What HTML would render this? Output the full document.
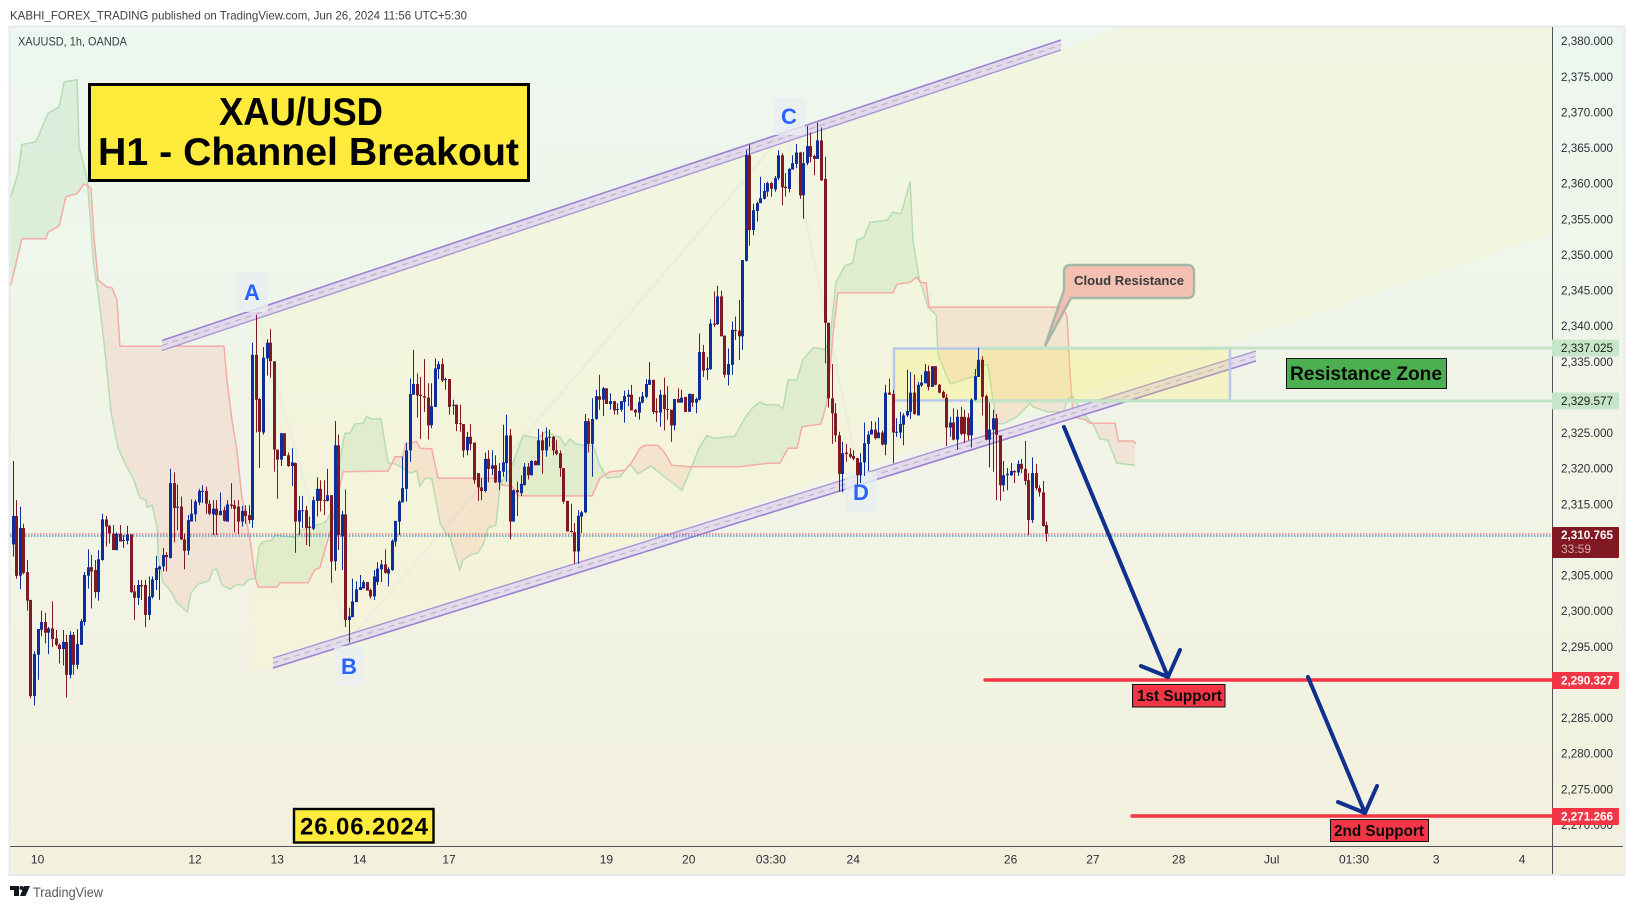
<!DOCTYPE html>
<html lang="en">
<head>
<meta charset="utf-8">
<title>XAU/USD H1 - Channel Breakout</title>
<style>
html,body{margin:0;padding:0;background:#fff;width:1634px;height:909px;overflow:hidden}
svg{display:block;font-family:"Liberation Sans",sans-serif}
</style>
</head>
<body>
<svg id="chart" xmlns="http://www.w3.org/2000/svg" width="1634" height="909" viewBox="0 0 1634 909">
<defs>
<linearGradient id="bgGrad" x1="0" y1="0" x2="0" y2="1">
<stop offset="0" stop-color="#edf7ef"/><stop offset="0.55" stop-color="#f1f4e6"/><stop offset="1" stop-color="#f3f0de"/>
</linearGradient>
<clipPath id="plotClip"><rect x="10" y="27" width="1542" height="819"/></clipPath>
</defs>
<rect width="1634" height="909" fill="#ffffff"/>
<text x="10" y="19.5" font-size="12" fill="#3d3f46" textLength="457" lengthAdjust="spacingAndGlyphs">KABHI_FOREX_TRADING published on TradingView.com, Jun 26, 2024 11:56 UTC+5:30</text>
<rect x="9.5" y="26.5" width="1615" height="848.5" fill="url(#bgGrad)" stroke="#e8eaed" stroke-width="2"/>

<g clip-path="url(#plotClip)">
<polygon points="253,314 1130,26 1552,26 1552,233 253,672" fill="#fff8b4" fill-opacity="0.22"/>
<polyline points="253,314 253,672 1552,233" fill="none" stroke="#f2f2d6" stroke-width="2" stroke-dasharray="2 5"/>
<polyline points="256,312 349,640 787,130 860,480" fill="none" stroke="#eeeedd" stroke-width="3"/>
<g id="cloudLayer"></g>

<g>
<polygon points="162,340.5 1061,40 1061,50 162,350.5" fill="#e2d9ea"/>
<line x1="162" y1="340.5" x2="1061" y2="40" stroke="#9a82d4" stroke-width="1.6"/>
<line x1="162" y1="350.5" x2="1061" y2="50" stroke="#a996d8" stroke-width="1.4"/>
<line x1="162" y1="345.5" x2="1061" y2="45" stroke="#b8a8cc" stroke-width="1" stroke-dasharray="6 5"/>
</g>
<g>
<polygon points="273,658 1256,351 1256,361 273,668" fill="#e2d9ea" fill-opacity="0.9"/>
<line x1="273" y1="658" x2="1256" y2="351" stroke="#a996d8" stroke-width="1.4"/>
<line x1="273" y1="668" x2="1256" y2="361" stroke="#9a82d4" stroke-width="1.6"/>
<line x1="273" y1="663" x2="1256" y2="356" stroke="#b8a8cc" stroke-width="1" stroke-dasharray="6 5"/>
</g>

<rect x="894" y="348.5" width="336" height="52" fill="#ffeb3b" fill-opacity="0.2" stroke="#b7c8ea" stroke-width="2.5"/>
<line x1="977" y1="348" x2="1552" y2="348" stroke="#c3e3c6" stroke-width="3"/>
<line x1="967" y1="401" x2="1552" y2="401" stroke="#c3e3c6" stroke-width="3"/>

<rect x="236" y="272" width="32" height="40" rx="3" fill="#e9eff0" fill-opacity="0.8"/>
<rect x="334" y="646" width="30" height="40" rx="3" fill="#e9eff0" fill-opacity="0.8"/>
<rect x="773" y="97" width="32" height="38" rx="3" fill="#e9eff0" fill-opacity="0.8"/>
<rect x="845" y="472" width="32" height="40" rx="3" fill="#e9eff0" fill-opacity="0.8"/>

<line x1="10" y1="534" x2="1552" y2="534" stroke="#e2404e" stroke-width="1" stroke-dasharray="1.5 1.5"/>
<line x1="10" y1="536" x2="1552" y2="536" stroke="#1e88e5" stroke-width="1.2" stroke-dasharray="1.5 1.5"/>

<g id="candleLayer"></g>

<text x="252" y="300" font-size="22" font-weight="bold" fill="#2962ff" text-anchor="middle">A</text>
<text x="349" y="674" font-size="22" font-weight="bold" fill="#2962ff" text-anchor="middle">B</text>
<text x="789" y="124" font-size="22" font-weight="bold" fill="#2962ff" text-anchor="middle">C</text>
<text x="861" y="500" font-size="22" font-weight="bold" fill="#2962ff" text-anchor="middle">D</text>

<path d="M1071,265 H1187 Q1194,265 1194,272 V291 Q1194,298 1187,298 H1071 L1045,346 L1064,290 V272 Q1064,265 1071,265 Z" fill="#f4b5a7" fill-opacity="0.82" stroke="#a3b8a8" stroke-width="2.4"/>
<text x="1074" y="285" font-size="13" font-weight="bold" fill="#3a3a3a" textLength="110" lengthAdjust="spacingAndGlyphs">Cloud Resistance</text>

<rect x="1286.5" y="358.5" width="160" height="30" fill="#4caf50" stroke="#111" stroke-width="1"/>
<text x="1290" y="380" font-size="19" font-weight="bold" fill="#0a0a0a" textLength="152" lengthAdjust="spacingAndGlyphs">Resistance Zone</text>

<line x1="985" y1="680" x2="1552" y2="680" stroke="#f23645" stroke-width="3.4" stroke-linecap="round"/>
<line x1="1132" y1="816" x2="1552" y2="816" stroke="#f23645" stroke-width="3.4" stroke-linecap="round"/>

<g fill="none" stroke="#10308f" stroke-width="4" stroke-linecap="round" stroke-linejoin="round">
<polyline points="1064,427 1168,677"/>
<polyline points="1141,666 1168,677 1180,650"/>
<polyline points="1308,677 1365,813"/>
<polyline points="1338,802 1365,813 1377,786"/>
</g>

<rect x="1132.5" y="684.5" width="92.5" height="22.5" fill="#f23645" stroke="#111" stroke-width="1"/>
<text x="1137" y="701" font-size="15.3" font-weight="bold" fill="#0a0a0a" textLength="85" lengthAdjust="spacingAndGlyphs">1st Support</text>
<rect x="1330.5" y="819.5" width="98" height="22" fill="#f23645" stroke="#111" stroke-width="1"/>
<text x="1334" y="836" font-size="15.3" font-weight="bold" fill="#0a0a0a" textLength="90" lengthAdjust="spacingAndGlyphs">2nd Support</text>

<rect x="89.5" y="84.5" width="439" height="96" fill="#ffeb3b" stroke="#000" stroke-width="3"/>
<text x="301" y="125" font-size="39" font-weight="bold" fill="#000" text-anchor="middle" textLength="164" lengthAdjust="spacingAndGlyphs">XAU/USD</text>
<text x="98" y="165" font-size="39" font-weight="bold" fill="#000" textLength="421" lengthAdjust="spacingAndGlyphs">H1 - Channel Breakout</text>

<rect x="294" y="809" width="139.5" height="33.5" fill="#ffeb3b" stroke="#000" stroke-width="2.4"/>
<text x="300" y="834.5" font-size="24" font-weight="bold" fill="#000" textLength="128" lengthAdjust="spacing">26.06.2024</text>
</g>

<text x="18" y="45.5" font-size="12" fill="#3a3c44" textLength="109" lengthAdjust="spacingAndGlyphs">XAUUSD, 1h, OANDA</text>

<line x1="1552.5" y1="27" x2="1552.5" y2="874" stroke="#50535e" stroke-width="1"/>
<line x1="10" y1="846.5" x2="1623" y2="846.5" stroke="#50535e" stroke-width="1"/>
<g id="priceTicks"></g>
<g id="timeTicks"></g>

<g>
<rect x="1552" y="339.5" width="67" height="17" rx="1" fill="#c6e6c9"/>
<text x="1561" y="352" font-size="12" fill="#1c1c1c" textLength="52" lengthAdjust="spacingAndGlyphs">2,337.025</text>
<rect x="1552" y="392.5" width="67" height="17" rx="1" fill="#c6e6c9"/>
<text x="1561" y="405" font-size="12" fill="#1c1c1c" textLength="52" lengthAdjust="spacingAndGlyphs">2,329.577</text>
<rect x="1552" y="527" width="67" height="31" rx="1" fill="#801922"/>
<text x="1561" y="539" font-size="12" font-weight="bold" fill="#ffffff" textLength="52" lengthAdjust="spacingAndGlyphs">2,310.765</text>
<text x="1561" y="553" font-size="12" fill="#d8b0b4" textLength="30" lengthAdjust="spacingAndGlyphs">33:59</text>
<rect x="1552" y="672" width="67" height="17" rx="1" fill="#f23645"/>
<text x="1561" y="684.5" font-size="12" font-weight="bold" fill="#ffffff" textLength="52" lengthAdjust="spacingAndGlyphs">2,290.327</text>
<rect x="1552" y="808" width="67" height="17" rx="1" fill="#f23645"/>
<text x="1561" y="820.5" font-size="12" font-weight="bold" fill="#ffffff" textLength="52" lengthAdjust="spacingAndGlyphs">2,271.266</text>
</g>

<g>
<path d="M10,886 H19 V896 H14 V890 H10 Z" fill="#131722"/>
<circle cx="21.5" cy="888" r="2" fill="#131722"/>
<path d="M24,886 H30 L25.5,896 H20 Z" fill="#131722"/>
<text x="33" y="897" font-size="14" fill="#555860" textLength="70" lengthAdjust="spacingAndGlyphs">TradingView</text>
</g>
</svg>

<script>
var priceTickValues = [2380,2375,2370,2365,2360,2355,2350,2345,2340,2335,2325,2320,2315,2305,2300,2295,2285,2280,2275,2270];
var timeLabels = ["10","12","13","14","17","19","20","03:30","24","26","27","28","Jul","01:30","3","4"];
var timeLabelBars = [7,51,74,97,122,166,189,212,235,279,302,326,352,375,398,422];

var opens = [
2309.3,2313.3,2304.9,2311.6,2305.4,2301.5,2288,2293.8,2297.3,2298.4,
2296.9,2297.5,2296.1,2295.2,2294.6,2295.6,2291,2296.6,2292.4,2295.2,
2298.4,2304.9,2306.1,2305.7,2302.6,2307.1,2312.8,2311.9,2310.8,2308.5,
2310.8,2309.8,2309.8,2310.7,2302.7,2301.8,2303.6,2303.6,2299.4,2301.9,
2304.3,2305.8,2306.2,2307.8,2307.4,2317.9,2314.5,2314.6,2310,2308.4,
2312.5,2313.5,2315.2,2316.7,2316.8,2315,2313.5,2314.3,2313.4,2314.1,
2312.5,2314.9,2314.8,2314.6,2312.5,2314,2313.4,2312.7,2335.9,2329.7,
2325,2335.4,2337.6,2335,2322.6,2321.2,2324.9,2321.8,2320.3,2320.7,
2312.5,2314,2314.1,2311.8,2311.5,2315.4,2317.1,2315.5,2315.4,2316.2,
2306.9,2323.2,2310.4,2313.5,2298.7,2299.1,2301.2,2302.9,2303.1,2304,
2302.9,2302,2304,2305.8,2306.5,2305.2,2305.7,2309.7,2312.5,2315.2,
2317.1,2322.5,2330.3,2331.8,2330.3,2330.1,2329.9,2326,2328.6,2333.9,
2334.6,2332.4,2332.5,2328.8,2328.9,2326.3,2326.2,2322.5,2324.4,2323.6,
2319.3,2317.3,2316.8,2321.3,2319.9,2320.4,2318,2319.5,2320.7,2324.6,
2312.5,2316.9,2316.5,2317.6,2320.2,2319,2321,2320.4,2323.9,2322.5,
2324.3,2324.4,2322.5,2322.1,2320,2315.4,2311.2,2311,2308.3,2313.2,
2313.8,2326.6,2323.4,2326.9,2330.1,2329.6,2331.2,2329,2329.4,2328.2,
2328.2,2329.3,2330,2330.3,2328.2,2327.8,2329.2,2330,2331.7,2332.4,
2328,2327.8,2330.3,2328.3,2328.2,2326,2329.7,2329.2,2330,2327.9,
2330.4,2329.2,2329.6,2336.3,2333.8,2333.9,2340.3,2340.2,2344.1,2338.6,
2333.1,2334.5,2339.4,2339.3,2338.5,2349.1,2363.9,2353.4,2356.1,2357.2,
2357.8,2358.8,2360,2359.1,2360.7,2363.9,2359.5,2359.2,2361.9,2362.7,
2364.3,2358.3,2362.8,2365.2,2363.8,2363.4,2366,2360.6,2340.4,2329.8,
2327.7,2324.6,2319.2,2322.2,2322,2321.7,2321.4,2319,2320.8,2323.4,
2324.7,2325.4,2324.2,2325,2323.3,2330.6,2330.4,2325,2325,2326.1,
2327.4,2327.9,2330.6,2327.4,2331.6,2331.9,2333.6,2331.4,2334.3,2331.7,
2330.7,2329.9,2325.7,2326.4,2324,2327.2,2327.2,2327.1,2324.6,2329.6,
2332.8,2335.2,2330.1,2324,2325.4,2327,2324.6,2317.6,2319,2319,
2319.6,2319.4,2320.6,2319.9,2318.3,2312.7,2319.3,2317.2,2316.6,2312
];
var highs = [
2321,2315.5,2314.6,2312.2,2307.1,2301.5,2294.3,2297.4,2300,2299.7,
2297.7,2301.3,2297.3,2295.4,2297.3,2296.6,2297.1,2297,2297.4,2298.8,
2305.4,2308.6,2307.8,2307.1,2308.5,2313.6,2313.3,2312,2312,2311,
2312,2310.6,2311.9,2310.7,2303.6,2304.3,2304.3,2304.3,2304.8,2304.8,
2307.7,2306.3,2308.8,2308.2,2319.9,2319.4,2317.7,2316,2310.8,2313.4,
2315.6,2315.6,2317.1,2317.6,2317.4,2315.5,2315.5,2315.5,2316.6,2314.6,
2315.5,2317.9,2315.5,2315.5,2314.7,2314.8,2314.8,2337.6,2341.5,2329.8,
2337,2338.1,2339.5,2335,2322.6,2324.9,2324.9,2322.2,2322.8,2320.8,
2316.1,2316.1,2314.7,2313.2,2316,2318.7,2318.3,2318.3,2319.9,2316.2,
2326.6,2324.7,2314,2317,2300.4,2304.5,2304.1,2305,2304.3,2304,
2303.1,2305.7,2306.8,2307.1,2308.6,2306.1,2310,2312.6,2315.5,2321.6,
2323.5,2332.6,2336.6,2333.3,2332.8,2335.3,2331.9,2331.9,2335.4,2335,
2335.4,2332.7,2332.5,2329.6,2328.9,2328.9,2326.2,2325.1,2326.2,2323.6,
2319.3,2318.6,2322.2,2322.5,2322.5,2321.8,2320.7,2326.1,2327.5,2325.5,
2317,2318.1,2319,2320.7,2320.7,2321.1,2321.1,2325.5,2325.1,2325.7,
2325.4,2324.5,2323.9,2322.5,2320,2315.4,2315,2312.3,2314.1,2314,
2327.6,2327,2329.8,2331,2333.1,2331.4,2331.2,2330.5,2329.4,2329.1,
2329.4,2330.9,2331,2331.7,2328.3,2330,2330.7,2332.5,2334.9,2332.4,
2329.8,2331,2332.7,2331.5,2328.2,2329.7,2331.2,2331,2330,2330.5,
2330.4,2329.9,2338.9,2337.3,2335.6,2340.9,2344.8,2345.6,2344.9,2338.6,
2336.8,2340.6,2341.3,2343.6,2349.2,2364.7,2365.4,2357.1,2357.4,2360.9,
2360,2360.2,2360.2,2361,2364.6,2364.2,2361.4,2362.1,2363.9,2365.5,
2364.4,2364.4,2368,2367.1,2364,2368.5,2367.8,2363.7,2340.4,2334.6,
2329.1,2325.1,2323.7,2323.4,2322.8,2322.5,2321.4,2322.1,2326.4,2325.2,
2326.6,2326.5,2327.1,2325.3,2331.7,2332.6,2331,2327,2327.9,2327.7,
2333.8,2333.5,2333.1,2332.1,2333.1,2334.6,2334.4,2334.3,2334.3,2331.8,
2330.9,2330.4,2327.2,2328.4,2328.2,2328.6,2328.2,2327.7,2329.8,2333.9,
2336.9,2335.7,2330.3,2329.2,2328.2,2327.6,2324.6,2321,2320,2320.7,
2319.7,2321.1,2321.3,2323.8,2319.3,2321.5,2320.6,2317.6,2318.2,2312.5
];
var lows = [
2307.6,2304.5,2303,2305.1,2300,2287.7,2286.7,2290.3,2296.4,2295.4,
2293.9,2294.9,2295,2292.6,2292.3,2287.8,2290.5,2291,2291.8,2295.2,
2297.9,2303.1,2300.3,2301.8,2301.4,2307,2309,2309.4,2308.5,2308.5,
2309.7,2308.8,2309.3,2302.5,2298.7,2300.8,2301.5,2297.7,2298.7,2301.7,
2302.9,2301.5,2305.5,2305.5,2307.3,2309.6,2311.3,2309.9,2305.8,2307.8,
2312.5,2312.5,2314.8,2315.1,2313.6,2313.4,2310.6,2310.6,2313.4,2312.5,
2312.5,2314.3,2311,2310.8,2311.8,2312.2,2312.2,2311.6,2325,2320,
2324.7,2333,2332.7,2319.5,2315.7,2320.3,2321.7,2320.2,2317.5,2308.1,
2310.6,2311.6,2309.2,2309,2311.3,2313.2,2313.9,2313.4,2315.3,2303.9,
2305.6,2308.5,2305.7,2297.7,2295.5,2299.1,2301.2,2302.9,2303.1,2302.8,
2301.7,2301.5,2303.6,2304,2305.2,2303.4,2305.6,2309,2310.6,2315.2,
2315.3,2320.9,2330.3,2327.1,2324.1,2327.9,2324,2325.6,2328.6,2332.5,
2332.1,2331,2327.5,2327.5,2325.2,2325.1,2321.5,2321.8,2322.5,2317.8,
2315.4,2315.5,2316.6,2318,2319,2317.9,2316.9,2318.8,2318.1,2310,
2312.5,2313.3,2316.1,2317.6,2318.4,2319,2320.4,2320.4,2319.2,2321.6,
2323,2321.8,2321.8,2318.8,2315,2311.1,2311,2306.6,2306.6,2310.9,
2313.7,2322.2,2318.8,2326.8,2328.2,2327.3,2329,2328.2,2327.5,2327.5,
2327.9,2326.4,2328.7,2328.1,2327.2,2326.8,2329.1,2329.8,2331.7,2327.6,
2326.5,2325.8,2325.3,2326.8,2323.7,2325.3,2329.2,2329.2,2327.9,2327.9,
2328.6,2327.7,2329.5,2332.8,2332.4,2333.8,2339.8,2340.1,2338.5,2332.7,
2331.6,2333.1,2338,2335.2,2336.6,2349,2351.2,2352.7,2354.6,2357.2,
2357.7,2358.1,2358.1,2358.8,2360.4,2356.9,2358.1,2358.7,2361.9,2362.1,
2357.8,2355,2362.5,2362.9,2361.1,2363.4,2360.3,2334.7,2328.5,2323.4,
2323.7,2316.7,2316.6,2320.9,2321.4,2321.1,2317.6,2317.9,2318.9,2319.6,
2324.7,2324,2324.2,2323.2,2321.8,2330.3,2320.7,2324.4,2324.2,2323.2,
2327.2,2326.9,2327.5,2327.4,2331.4,2331.9,2330.9,2331.4,2331.6,2330.5,
2329.8,2323.1,2324.4,2323.9,2322.6,2324.6,2323.5,2323.9,2322.9,2329.5,
2332.8,2327.4,2323.9,2320.1,2319.5,2315.5,2315.4,2316.7,2316.9,2318.9,
2317.9,2318.9,2319.3,2317.6,2310.6,2312.3,2316.9,2316,2311.8,2309.7
];
var closes = [
2313.3,2304.9,2311.6,2305.3,2301.4,2288,2293.9,2297.4,2298.4,2296.9,
2297.5,2296,2295.2,2294.6,2295.6,2291,2296.6,2292.4,2295.3,2298.5,
2305,2306.1,2305.5,2302.6,2307.2,2312.8,2311.8,2310.8,2308.5,2310.8,
2309.7,2309.9,2310.7,2302.6,2301.8,2303.6,2303.4,2299.4,2302,2304.4,
2306,2306.2,2307.8,2307.5,2317.9,2314.4,2314.6,2310,2308.4,2312.7,
2313.6,2315.3,2316.8,2316.8,2315,2313.6,2314.3,2313.4,2314,2312.6,
2314.9,2314.7,2314.3,2312.5,2314,2313.3,2312.7,2335.9,2329.6,2325.1,
2335.5,2337.6,2335,2322.6,2321.2,2324.9,2321.7,2320.3,2320.8,2312.5,
2314.1,2314.1,2311.6,2311.6,2315.5,2317.1,2315.4,2315.4,2316.2,2306.9,
2323.2,2310.6,2313.5,2298.7,2299.2,2301.3,2303,2303.3,2304,2302.8,
2302,2304.8,2305.9,2306.5,2305.3,2305.8,2309.8,2312.6,2315.3,2317.2,
2322.5,2330.4,2331.8,2330.2,2330.1,2329.9,2326,2328.7,2334,2334.6,
2332.3,2332.5,2328.6,2328.9,2326.2,2326.2,2322.5,2324.4,2323.4,2318.3,
2317.3,2316.8,2321.3,2319.9,2320.4,2318,2319.6,2320.8,2324.6,2312.5,
2316.9,2316.6,2317.8,2320.2,2319,2321,2320.4,2323.9,2322.5,2324.3,
2324.4,2322.5,2322,2320,2315.3,2311.1,2311,2308.3,2313.3,2313.8,
2326.6,2323.4,2326.9,2330.1,2329.6,2331.2,2329,2329.4,2328.1,2328.3,
2329.4,2330.1,2330.3,2328.1,2327.8,2329.3,2330.1,2331.8,2332.4,2327.9,
2327.8,2330.3,2328.3,2328.2,2326,2329.7,2329.2,2329.9,2327.9,2330.4,
2329.2,2329.7,2336.3,2333.7,2334,2340.3,2340.1,2344.1,2338.5,2333.1,
2334.6,2339.4,2339.3,2338.5,2349.2,2363.9,2353.4,2356.2,2357.2,2357.9,
2358.9,2360,2359.2,2360.7,2363.9,2359.4,2359.3,2362,2362.8,2364.3,
2358.3,2362.8,2365.2,2363.7,2363.4,2366,2360.4,2340.4,2329.8,2327.7,
2324.6,2319.2,2322.1,2322,2321.6,2321.3,2319,2320.8,2323.5,2324.7,
2325.4,2324.2,2325,2323.3,2330.6,2330.3,2325,2325.1,2326.2,2327.4,
2328,2330.6,2327.6,2331.7,2332,2333.6,2331.4,2334.3,2331.7,2330.6,
2329.9,2325.7,2326.4,2324,2327.2,2324.8,2324.8,2324.6,2329.6,2332.9,
2335.2,2330,2324,2325.4,2327,2324.7,2317.6,2319,2319.2,2319.6,
2319.4,2320.6,2319.9,2318.2,2312.7,2319.3,2317.2,2316.6,2311.9,2310.8
];

var spanABars = [-0.5,1.5,2.6,6.5,9.9,13,14.4,18,18.6,20.9,22.6,23.9,25.6,27.5,29.5,31.9,33.7,35.6,37.3,37.6,39,40.4,40.7,42,44,46,48.8,49.9,51.8,54.9,56,57.1,58.5,60.8,62.7,64.4,65.8,67.8,68.9,69.7,72.5,73.4,78.9,80.9,87.3,88.7,91,91.5,92.9,94.3,95.7,98,99,100.2,103,105,107,109.1,111.1,113,113.9,115.3,117.2,119.5,120.9,122.3,125,125.9,128.4,130.1,131.5,132.9,135.1,136.3,139.9,142.7,146.9,149.1,151.6,153,154.4,155.8,157.2,159.2,162.3,164.2,166.2,169.8,172.6,174.8,178.5,183,187.1,190.2,191.9,194.1,195.8,201.9,204.7,206.7,208.9,210.3,213.7,215.4,216.8,219.3,220.9,223.8,227.1,228.5,230.2,232.7,234.9,236.1,238,239.7,244.5,246.1,248.4,250.9,251.7,253.4,255.9,258.2,258.7,262.1,266.8,268.5,269.6,272.7,273.8,275.2,276.9,280.8,284.4,285.3,289.2,293.7,295.1,296.5,297.6,299.3,302.1,304,306.2,308.7,313.8];
var spanAValues = [2358.1,2361.4,2365.4,2365.8,2369.8,2370.7,2374.2,2374.5,2365.1,2360.4,2348.8,2344.6,2337.4,2327.9,2322.8,2320.2,2318.6,2315.8,2315.5,2314.5,2314.8,2311.7,2307.5,2304,2302.9,2301.1,2299.8,2302.5,2303.7,2304.2,2305.7,2305.8,2303.6,2303,2303.7,2303.5,2304.3,2304.6,2308.9,2309.6,2309.9,2310.6,2310.3,2311.3,2312.4,2313.4,2315.5,2321.1,2324.9,2324.9,2326.2,2326.3,2327.3,2326.9,2326.9,2320.7,2320.6,2320,2319.3,2319.6,2317.4,2318.6,2318.5,2312.3,2311,2310.3,2305.6,2307.1,2307.9,2308.1,2309.2,2311.6,2312,2317.6,2320.7,2324.6,2324.2,2325.2,2324.5,2324.4,2323.2,2324.1,2323.5,2323.2,2323.2,2320.4,2318.6,2318.8,2320.6,2319.2,2320.3,2318.5,2316.9,2320.6,2322.8,2324.6,2324.2,2324.5,2327,2328.4,2329.3,2328.9,2328.9,2328.4,2332.4,2332.4,2335.2,2336.9,2336.7,2338,2346.1,2348.4,2348.8,2352,2352.4,2354.5,2354.8,2355.9,2355.7,2360.2,2352,2346.8,2342.6,2341.5,2335.9,2331.8,2332.6,2332.8,2334.3,2334.5,2330.5,2326.3,2326.2,2327.2,2329.1,2328.6,2327.9,2327.9,2329.8,2330,2329.1,2327.7,2326.1,2324.1,2323.9,2320.7,2320.4];
var spanBBars = [-0.5,1,2.6,9.3,9.9,13,14.9,18,20,21.9,22.8,23.9,26.4,27.8,29.2,30,59.1,59.9,61.3,62.7,64.1,66.4,67.8,68.6,73.9,74.8,82.6,84.5,85.9,87.3,88.7,92.4,105,106.9,109.1,109.9,113,113.9,117.2,118.9,136.3,136.8,139.6,141.3,162,164.2,167,171.2,173.2,175.4,176.8,180.4,182.1,184.3,189.4,203.3,211.7,214.5,216.8,219.3,220.7,226,227.7,229.4,230.7,246.1,247.2,250.9,252.8,253.7,255.4,256.2,293.7,294.8,295.6,296.5,299.8,301.2,308.2,309.1,313.3,314.1];
var spanBValues = [2345.7,2348.8,2352.2,2352.2,2353.1,2354,2358.1,2358.5,2359.9,2359.3,2352,2346.4,2345.4,2345.3,2343.6,2337.1,2337.1,2332.4,2326.8,2322.5,2315.9,2309.9,2304.7,2303.3,2303.3,2303.9,2303.9,2305.8,2306,2308.5,2310.9,2319.5,2319.6,2321.6,2321.6,2323.5,2323.7,2322.8,2322.7,2318.6,2318.6,2317.6,2317.5,2316.1,2316.1,2318.6,2319.5,2319.7,2320.9,2322.8,2323.2,2323.2,2322.3,2320.4,2320.2,2320.2,2320.7,2320.7,2322.8,2322.8,2325.8,2326.2,2329.3,2339,2344.6,2344.6,2345.8,2346.1,2346.8,2346.1,2346,2342.6,2342.6,2341.2,2333.4,2327.2,2326.8,2326.3,2326.3,2323.8,2323.8,2323.4];

var SVG_NS = 'http://www.w3.org/2000/svg';
function xOf(bar){ return 12.6 + 3.577 * bar; }
function yOf(price){ return 575 - (price - 2305) * 7.125; }
function make(tag, attrs){
  var el = document.createElementNS(SVG_NS, tag);
  for (var k in attrs) el.setAttribute(k, attrs[k]);
  return el;
}
function interp(bars, vals, b){
  if (b <= bars[0]) return vals[0];
  for (var i = 1; i < bars.length; i++){
    if (b <= bars[i]) return vals[i-1] + (vals[i]-vals[i-1]) * (b-bars[i-1]) / (bars[i]-bars[i-1]);
  }
  return vals[vals.length-1];
}
function fmtPrice(p){ return p.toLocaleString('en-US',{minimumFractionDigits:3,maximumFractionDigits:3}); }

function drawCloud(){
  var layer = document.getElementById('cloudLayer');
  var merged = spanABars.concat(spanBBars).sort(function(a,b){return a-b;});
  var start = Math.max(spanABars[0], spanBBars[0]);
  var end = Math.min(spanABars[spanABars.length-1], spanBBars[spanBBars.length-1]);
  var samples = [];
  merged.forEach(function(b){
    if (b < start || b > end) return;
    if (samples.length && samples[samples.length-1].b === b) return;
    samples.push({b:b, a:interp(spanABars,spanAValues,b), c:interp(spanBBars,spanBValues,b)});
  });
  var runs = [];
  var run = null;
  function push(s){ run.top.push(s); }
  for (var i = 0; i < samples.length; i++){
    var s = samples[i];
    var sign = s.a >= s.c;
    if (!run){ run = {sign:sign, top:[s]}; runs.push(run); continue; }
    if (sign !== run.sign){
      var p = samples[i-1];
      var d0 = p.a - p.c, d1 = s.a - s.c;
      var t = d0 / (d0 - d1);
      var crossing = {b:p.b+(s.b-p.b)*t, a:p.a+(s.a-p.a)*t, c:p.a+(s.a-p.a)*t};
      push(crossing);
      run = {sign:sign, top:[crossing]};
      runs.push(run);
    }
    push(s);
  }
  runs.forEach(function(r){
    var pts = [];
    r.top.forEach(function(s){ pts.push(xOf(s.b).toFixed(1)+','+yOf(s.a).toFixed(1)); });
    r.top.slice().reverse().forEach(function(s){ pts.push(xOf(s.b).toFixed(1)+','+yOf(s.c).toFixed(1)); });
    var poly = make('polygon',{points:pts.join(' '), fill:r.sign?'#4caf50':'#f44336', 'fill-opacity':r.sign?'0.115':'0.09'});
    
    
    layer.appendChild(poly);
  });
  var aPts = spanABars.map(function(b,i){ return xOf(b).toFixed(1)+','+yOf(spanAValues[i]).toFixed(1); }).join(' ');
  var bPts = spanBBars.map(function(b,i){ return xOf(b).toFixed(1)+','+yOf(spanBValues[i]).toFixed(1); }).join(' ');
  var lineA = make('polyline',{points:aPts, fill:'none', stroke:'#b6dcb2', 'stroke-width':'1.5', 'stroke-linejoin':'round'});
  
  
  layer.appendChild(lineA);
  var lineB = make('polyline',{points:bPts, fill:'none', stroke:'#f4aca5', 'stroke-width':'1.5', 'stroke-linejoin':'round'});
  
  
  layer.appendChild(lineB);
}

function drawCandles(){
  var layer = document.getElementById('candleLayer');
  for (var i = 0; i < opens.length; i++){
    var up = closes[i] >= opens[i];
    var color = up ? '#0e2f99' : '#7f1a25';
    var cx = Math.round(xOf(i));
    var g = make('g',{});
    
    
    var wick = make('rect',{x:cx, y:yOf(highs[i]).toFixed(1), width:1, height:Math.max(1,yOf(lows[i])-yOf(highs[i])).toFixed(1), fill:color});
    
    
    g.appendChild(wick);
    var top = yOf(Math.max(opens[i],closes[i]));
    var bot = yOf(Math.min(opens[i],closes[i]));
    var body = make('rect',{x:cx-1, y:top.toFixed(1), width:3, height:Math.max(1,bot-top).toFixed(1), fill:color});
    
    
    g.appendChild(body);
    layer.appendChild(g);
  }
}

function drawAxes(){
  var pg = document.getElementById('priceTicks');
  priceTickValues.forEach(function(p){
    var t = make('text',{x:1561, y:(yOf(p)+4.5).toFixed(1), 'font-size':12, fill:'#2c2e36', textLength:52, lengthAdjust:'spacingAndGlyphs'});
    
    
    t.textContent = fmtPrice(p);
    pg.appendChild(t);
  });
  var tg = document.getElementById('timeTicks');
  timeLabels.forEach(function(lbl,i){
    var t = make('text',{x:xOf(timeLabelBars[i]).toFixed(1), y:863.5, 'font-size':12, fill:'#2c2e36', 'text-anchor':'middle'});
    
    
    t.textContent = lbl;
    tg.appendChild(t);
  });
}

drawCloud();
drawCandles();
drawAxes();
</script>
</body>
</html>
